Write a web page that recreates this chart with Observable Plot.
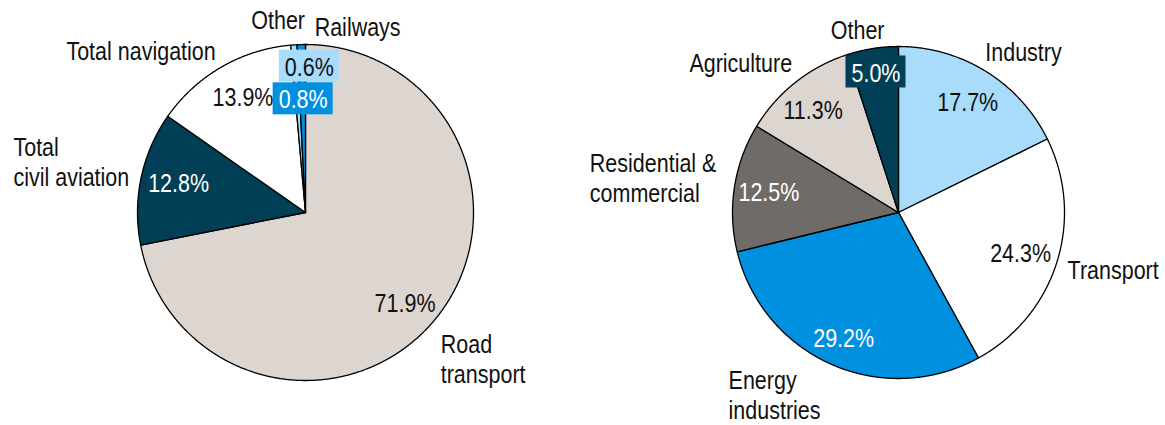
<!DOCTYPE html>
<html><head><meta charset="utf-8">
<script src="https://cdn.jsdelivr.net/npm/d3@7"></script>
<script src="https://cdn.jsdelivr.net/npm/@observablehq/plot@0.6"></script>
<style>
html,body{margin:0;padding:0;background:#fff;}
</style>
</head><body><div id="chart"></div>
<script>
// ---- data ----
const leftCategories = ["Road transport", "Total civil aviation", "Total navigation", "Other", "Railways"];
const leftNames = ["Road\ntransport", "Total\ncivil aviation", "Total navigation", "Other", "Railways"];
const leftValues = [71.9, 12.8, 13.9, 0.6, 0.8];

const rightCategories = ["Industry", "Transport", "Energy industries", "Residential & commercial", "Agriculture", "Other"];
const rightNames = ["Industry", "Transport", "Energy\nindustries", "Residential &\ncommercial", "Agriculture", "Other"];
const rightValues = [17.7, 24.3, 29.2, 12.5, 11.3, 5.0];

// ---- styles / layout ----
const C = {beige: "#DDD5D0", navy: "#003F55", white: "#FFFFFF", light: "#A8DCFA", blue: "#0090E0", gray: "#6F6B69"};
const darkFills = new Set([C.navy, C.blue, C.gray]);
const leftColors = [C.beige, C.navy, C.white, C.light, C.blue];
const rightColors = [C.light, C.white, C.blue, C.gray, C.beige, C.navy];

const W = 1165, H = 425;
const FONT = "'Liberation Sans',Arial,sans-serif";
const FS = 25;
const SQUEEZE = 0.86; // horizontal condensing of the text

// name label: [anchor, dx, dy]; pct label: [dx, dy, boxed]
const leftLayout = {
  cx: 305, cy: 212, r: 168,
  names: [["start", -14, 23], ["start", -103, -11], ["end", 7, 5], ["middle", -14, 0], ["start", 14, 7]],
  pcts: [[-3, 6, false], [3, -3, false], [4, -1, false], [13, -14, true], [1, 19, true]]
};
const rightLayout = {
  cx: 898, cy: 212, r: 166,
  names: [["start", -14, 1], ["start", -13, 0], ["start", -93, 7], ["start", -120, -6], ["end", 12, 0], ["middle", -11, 5]],
  pcts: [[0, 0, false], [-3, 1, false], [-2, 5, false], [0, -1, false], [-4, 0, false], [-2, -11, true]]
};

function build(cats, names, values, colors, L, tag) {
  const arcs = d3.pie().sort(null).value(d => d)(values);
  const pts = [], nameLabels = [], pctLabels = [], boxes = [];
  arcs.forEach((a, i) => {
    const key = tag + i;
    const color = colors[i];
    pts.push({key, color, x: L.cx, y: L.cy});
    const n = Math.max(2, Math.ceil((a.endAngle - a.startAngle) / (Math.PI / 720)));
    for (let k = 0; k <= n; k++) {
      const t = a.startAngle + (a.endAngle - a.startAngle) * k / n;
      pts.push({key, color, x: L.cx + L.r * Math.sin(t), y: L.cy - L.r * Math.cos(t)});
    }
    pts.push({key, color, x: L.cx, y: L.cy});
    const mid = (a.startAngle + a.endAngle) / 2;
    const [anchor, ndx, ndy] = L.names[i];
    nameLabels.push({
      anchor, text: names[i],
      x: L.cx + 1.15 * L.r * Math.sin(mid) + ndx,
      y: L.cy - 1.15 * L.r * Math.cos(mid) + ndy
    });
    const [pdx, pdy, boxed] = L.pcts[i];
    const px = L.cx + 0.79 * L.r * Math.sin(mid) + pdx;
    const py = L.cy - 0.79 * L.r * Math.cos(mid) + pdy;
    pctLabels.push({x: px, y: py, text: values[i].toFixed(1) + "%", color: darkFills.has(color) ? "#FFFFFF" : "#111111"});
    if (boxed) boxes.push({x1: px - 30, x2: px + 30, y1: py - 16, y2: py + 16, color});
  });
  return {pts, nameLabels, pctLabels, boxes};
}

const L = build(leftCategories, leftNames, leftValues, leftColors, leftLayout, "L");
const R = build(rightCategories, rightNames, rightValues, rightColors, rightLayout, "R");
const pts = L.pts.concat(R.pts);
const nameLabels = L.nameLabels.concat(R.nameLabels);
const pctLabels = L.pctLabels.concat(R.pctLabels);
const boxes = L.boxes.concat(R.boxes);

const textOpts = {fontSize: FS, lineHeight: 1.2, fontFamily: FONT};

const chart = Plot.plot({
  width: W, height: H, margin: 0,
  x: {domain: [0, W], range: [0, W], axis: null},
  y: {domain: [0, H], range: [0, H], axis: null},
  color: {type: "identity"},
  style: {fontFamily: FONT, background: "#fff"},
  marks: [
    Plot.line(pts, {x: "x", y: "y", z: "key", fill: "color", stroke: "#000", strokeWidth: 1.3, strokeLinejoin: "round"}),
    Plot.rect(boxes, {x1: "x1", x2: "x2", y1: "y1", y2: "y2", fill: "color"}),
    Plot.text(pctLabels, {x: "x", y: "y", text: "text", fill: "color", ...textOpts}),
    ...["start", "middle", "end"].map(anchor =>
      Plot.text(nameLabels.filter(d => d.anchor === anchor), {x: "x", y: "y", text: "text", textAnchor: anchor, fill: "#111111", ...textOpts})
    )
  ]
});
// condense text horizontally around each label's anchor point
chart.querySelectorAll("text").forEach(t => {
  const tr = t.getAttribute("transform") || "";
  t.setAttribute("transform", (tr + " scale(" + SQUEEZE + ",1)").trim());
});
document.getElementById("chart").appendChild(chart);
</script>
</body></html>
